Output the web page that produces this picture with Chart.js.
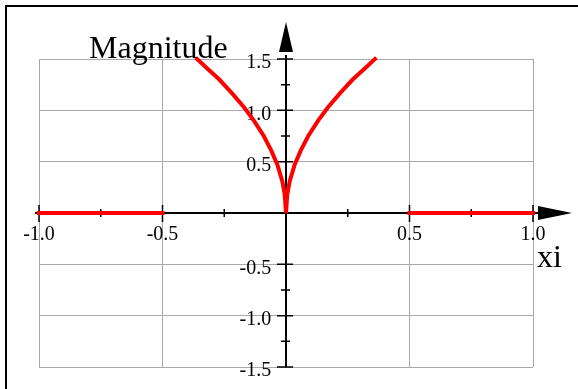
<!DOCTYPE html>
<html>
<head>
<meta charset="utf-8">
<script src="https://cdn.jsdelivr.net/npm/chart.js@4.4.0/dist/chart.umd.min.js"></script>
<style>
  html, body { margin: 0; padding: 0; background: #fff; }
  #wrap { position: relative; width: 578px; height: 389px; overflow: hidden; }
  #frame { position: absolute; left: 5px; top: 5px; right: -10px; bottom: -10px; border-top: 2px solid #000; border-left: 2px solid #000; }
  canvas { position: absolute; left: 0; top: 0; }
</style>
</head>
<body>
<div id="wrap">
  <div id="frame"></div>
  <canvas id="magChart" width="578" height="389"></canvas>
</div>
<script>
// tick values and labels
const xTickValues = [-1.0, -0.5, 0, 0.5, 1.0];
const xTickLabels = ['-1.0', '-0.5', '', '0.5', '1.0'];
const xMinorTicks = [-0.75, -0.25, 0.25, 0.75];
const yTickValues = [-1.5, -1.0, -0.5, 0, 0.5, 1.0, 1.5];
const yTickLabels = ['-1.5', '-1.0', '-0.5', '', '0.5', '1.0', '1.5'];
const yMinorTicks = [-1.25, -0.75, 0.75, 1.25];

// red curve
const leftFlatX = [-1.0, -0.5];
const leftFlatY = [0, 0];
const curveX = [-0.36, -0.32, -0.27, -0.22, -0.17, -0.13, -0.09, -0.06, -0.035, -0.015, -0.005, 0,
                0.005, 0.015, 0.035, 0.06, 0.09, 0.13, 0.17, 0.22, 0.27, 0.32, 0.36];
const curveY = [1.50, 1.41, 1.30, 1.17, 1.03, 0.90, 0.75, 0.61, 0.47, 0.31, 0.18, 0,
                0.18, 0.31, 0.47, 0.61, 0.75, 0.90, 1.03, 1.17, 1.30, 1.41, 1.50];
const rightFlatX = [0.5, 1.0];
const rightFlatY = [0, 0];

const serif = "'Liberation Serif', 'Times New Roman', serif";
const toPoints = (xs, ys) => xs.map((x, i) => ({ x: x, y: ys[i] }));

function redLine(xs, ys) {
  return {
    data: toPoints(xs, ys),
    showLine: true,
    borderColor: '#ff0000',
    borderWidth: 4,
    borderCapStyle: 'square',
    pointRadius: 0,
    tension: 0,
    fill: false,
    clip: 4
  };
}

// axes with arrows and cross ticks, drawn at the zero lines
const axisArrows = {
  id: 'axisArrows',
  beforeDatasetsDraw(chart) {
    const { ctx, chartArea, scales: { x, y } } = chart;
    const x0 = x.getPixelForValue(0);
    const y0 = y.getPixelForValue(0);
    ctx.save();
    ctx.strokeStyle = '#000';
    ctx.fillStyle = '#000';

    ctx.lineWidth = 2;
    ctx.beginPath();
    ctx.moveTo(chartArea.left - 4, y0);
    ctx.lineTo(chartArea.right + 10, y0);
    ctx.moveTo(x0, chartArea.bottom);
    ctx.lineTo(x0, chartArea.top - 4);
    ctx.stroke();

    // arrow heads
    ctx.beginPath();
    ctx.moveTo(chartArea.right + 39, y0);
    ctx.lineTo(chartArea.right + 5, y0 - 7);
    ctx.lineTo(chartArea.right + 5, y0 + 7);
    ctx.closePath();
    ctx.fill();
    ctx.beginPath();
    ctx.moveTo(x0, chartArea.top - 37);
    ctx.lineTo(x0 - 7, chartArea.top - 7);
    ctx.lineTo(x0 + 7, chartArea.top - 7);
    ctx.closePath();
    ctx.fill();

    // ticks
    ctx.lineWidth = 1.5;
    ctx.beginPath();
    xTickValues.forEach(v => {
      if (v === 0) return;
      const px = x.getPixelForValue(v);
      ctx.moveTo(px, y0 - 8);
      ctx.lineTo(px, y0 + 9);
    });
    xMinorTicks.forEach(v => {
      const px = x.getPixelForValue(v);
      ctx.moveTo(px, y0 - 4);
      ctx.lineTo(px, y0 + 4);
    });
    yTickValues.forEach(v => {
      if (v === 0) return;
      const py = y.getPixelForValue(v);
      ctx.moveTo(x0 - 9, py);
      ctx.lineTo(x0 + 7, py);
    });
    yMinorTicks.forEach(v => {
      const py = y.getPixelForValue(v);
      ctx.moveTo(x0 - 5, py);
      ctx.lineTo(x0 + 4, py);
    });
    ctx.stroke();
    ctx.restore();
  },
  afterDraw(chart) {
    const { ctx, chartArea, scales: { y } } = chart;
    ctx.save();
    ctx.fillStyle = '#000';
    ctx.font = '32px ' + serif;
    ctx.textAlign = 'left';
    ctx.textBaseline = 'alphabetic';
    ctx.fillText('Magnitude', 89, chartArea.top - 1);
    ctx.fillText('xi', chartArea.right + 4, y.getPixelForValue(0) + 54);
    ctx.restore();
  }
};

new Chart(document.getElementById('magChart'), {
  type: 'scatter',
  data: {
    datasets: [
      redLine(leftFlatX, leftFlatY),
      redLine(curveX, curveY),
      redLine(rightFlatX, rightFlatY)
    ]
  },
  options: {
    responsive: false,
    animation: false,
    layout: { padding: { left: 39, right: 45, top: 59, bottom: 22 } },
    plugins: { legend: { display: false }, tooltip: { enabled: false } },
    scales: {
      x: {
        type: 'linear',
        min: -1,
        max: 1,
        position: { y: 0 },
        afterBuildTicks: s => { s.ticks = xTickValues.map(v => ({ value: v })); },
        ticks: {
          callback: (v, i) => xTickLabels[i],
          color: '#000',
          font: { family: serif, size: 20 },
          padding: 10,
          maxRotation: 0,
          autoSkip: false
        },
        grid: { color: '#a8a8a8', lineWidth: 1, drawTicks: false },
        border: { display: false }
      },
      y: {
        type: 'linear',
        min: -1.5,
        max: 1.5,
        // labels sit just left of the vertical axis line
        position: { x: -0.06 },
        afterBuildTicks: s => { s.ticks = yTickValues.map(v => ({ value: v })); },
        ticks: {
          callback: (v, i) => yTickLabels[i],
          color: '#000',
          font: { family: serif, size: 20 },
          labelOffset: 4,
          autoSkip: false
        },
        grid: { color: '#a8a8a8', lineWidth: 1, drawTicks: false },
        border: { display: false }
      }
    }
  },
  plugins: [axisArrows]
});
</script>
</body>
</html>
